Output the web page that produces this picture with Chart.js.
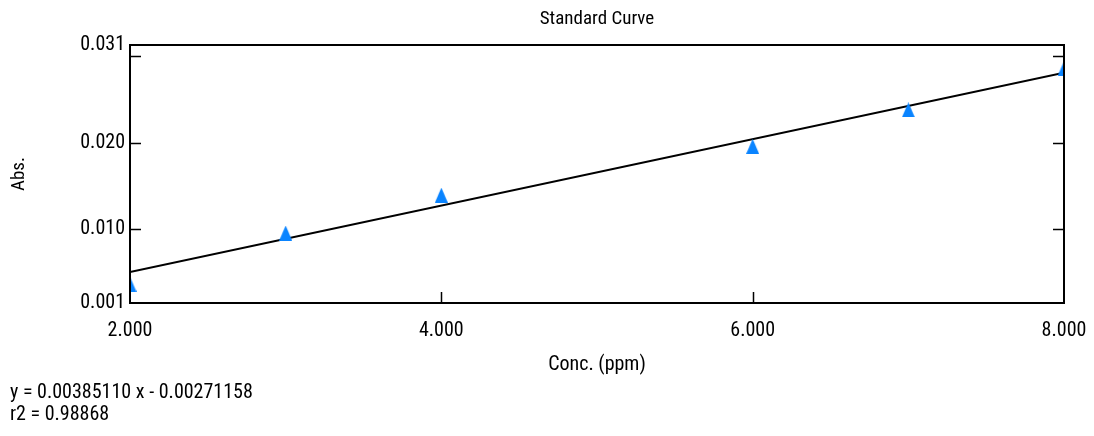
<!DOCTYPE html>
<html>
<head>
<meta charset="utf-8">
<script src="https://cdn.jsdelivr.net/npm/chart.js@4"></script>
<style>
  html, body { margin: 0; padding: 0; background: #fff; }
  #wrap { position: relative; width: 1094px; height: 436px; }
  #eq { position: absolute; left: 10px; top: 380px; font: 20px 'Roboto Condensed', 'Liberation Sans', Arial, sans-serif; line-height: 22px; color: #000; }
</style>
</head>
<body>
<div id="wrap">
  <canvas id="c" width="1094" height="436"></canvas>
  <div id="eq">y = 0.00385110 x - 0.00271158<br>r2 = 0.98868</div>
</div>
<script>
var FONT = "'Roboto Condensed', 'Liberation Sans', Arial, sans-serif";

// standards
var conc = [2, 3, 4, 6, 7, 8];
var absValues = [0.00357, 0.00951, 0.0139, 0.01956, 0.02379, 0.02857];

// regression line end points (y = 0.00385110 x - 0.00271158)
var fitX = [2, 8];
var fitY = [0.00499, 0.02810];

// axes
var xMin = 2, xMax = 8;
var yMin = 0.00139, yMax = 0.03132;
var xTickValues = [2, 4, 6, 8];
var xMarkValues = [4, 6];
var yTickValues = [0.010, 0.020];
var yMarkValues = [0.010, 0.020, 0.030];

function triangleImg(){
  var cv = document.createElement('canvas');
  cv.width = 13; cv.height = 15;
  var g = cv.getContext('2d');
  g.fillStyle = '#0a84ff';
  g.beginPath();
  g.moveTo(0, 15); g.lineTo(6.5, 0); g.lineTo(13, 15);
  g.closePath(); g.fill();
  return cv;
}

var framePlugin = {
  id: 'frame',
  afterDatasetsDraw: function(chart){
    var ctx = chart.ctx, a = chart.chartArea;
    var xs = chart.scales.x, ys = chart.scales.y;
    ctx.save();
    ctx.strokeStyle = '#000';
    ctx.lineWidth = 2;
    ctx.strokeRect(a.left, a.top, a.right - a.left, a.bottom - a.top);
    ctx.lineWidth = 1.5;
    ctx.beginPath();
    yMarkValues.forEach(function(v){
      var py = Math.round(ys.getPixelForValue(v)) + 0.5;
      ctx.moveTo(a.left, py); ctx.lineTo(a.left + 11, py);
      ctx.moveTo(a.right, py); ctx.lineTo(a.right - 11, py);
    });
    xMarkValues.forEach(function(v){
      var px = Math.round(xs.getPixelForValue(v)) + 0.5;
      ctx.moveTo(px, a.bottom); ctx.lineTo(px, a.bottom - 11);
    });
    ctx.stroke();
    // title
    ctx.fillStyle = '#000';
    ctx.font = '19px ' + FONT;
    ctx.textAlign = 'center';
    ctx.textBaseline = 'middle';
    ctx.fillText('Standard Curve', (a.left + a.right) / 2, 19);
    ctx.restore();
  }
};

var ctx = document.getElementById('c').getContext('2d');
window.stdCurve = new Chart(ctx, {
  type: 'scatter',
  data: {
    datasets: [{
      type: 'line',
      label: 'Fit',
      data: fitX.map(function(x, i){ return {x: x, y: fitY[i]}; }),
      borderColor: '#000',
      borderWidth: 2,
      pointRadius: 0,
      fill: false,
      order: 2
    }, {
      label: 'Standards',
      data: conc.map(function(x, i){ return {x: x, y: absValues[i]}; }),
      pointStyle: triangleImg(),
      backgroundColor: '#0a84ff',
      order: 1
    }]
  },
  options: {
    responsive: false,
    animation: false,
    layout: { padding: { left: 0, right: 30, top: 45, bottom: 53 } },
    plugins: {
      legend: { display: false },
      tooltip: { enabled: false }
    },
    scales: {
      x: {
        type: 'linear',
        min: xMin, max: xMax,
        grid: { display: false, drawTicks: false, tickLength: 0 },
        border: { display: false },
        afterBuildTicks: function(s){ s.ticks = xTickValues.map(function(v){ return {value: v}; }); },
        afterFit: function(s){ s.height = 80; s.paddingLeft = 0; s.paddingRight = 0; },
        ticks: {
          padding: 16,
          color: '#000',
          font: { family: FONT, size: 20 },
          maxRotation: 0,
          callback: function(v){ return Number(v).toFixed(3); }
        },
        title: {
          display: true,
          text: 'Conc. (ppm)',
          color: '#000',
          font: { family: FONT, size: 20 },
          padding: { top: 0, bottom: 6 }
        }
      },
      y: {
        type: 'linear',
        min: yMin, max: yMax,
        grid: { display: false, drawTicks: false, tickLength: 0 },
        border: { display: false },
        afterBuildTicks: function(s){
          s.ticks = [yMin].concat(yTickValues, [yMax]).map(function(v){ return {value: v}; });
        },
        afterFit: function(s){ s.width = 130; s.paddingTop = 0; s.paddingBottom = 0; },
        ticks: {
          padding: 5,
          color: '#000',
          font: { family: FONT, size: 20 },
          callback: function(v){ return Number(v).toFixed(3); }
        },
        title: {
          display: true,
          text: 'Abs.',
          color: '#000',
          font: { family: FONT, size: 19 },
          padding: { top: 8, bottom: 0 }
        }
      }
    }
  },
  plugins: [framePlugin]
});
</script>
</body>
</html>
